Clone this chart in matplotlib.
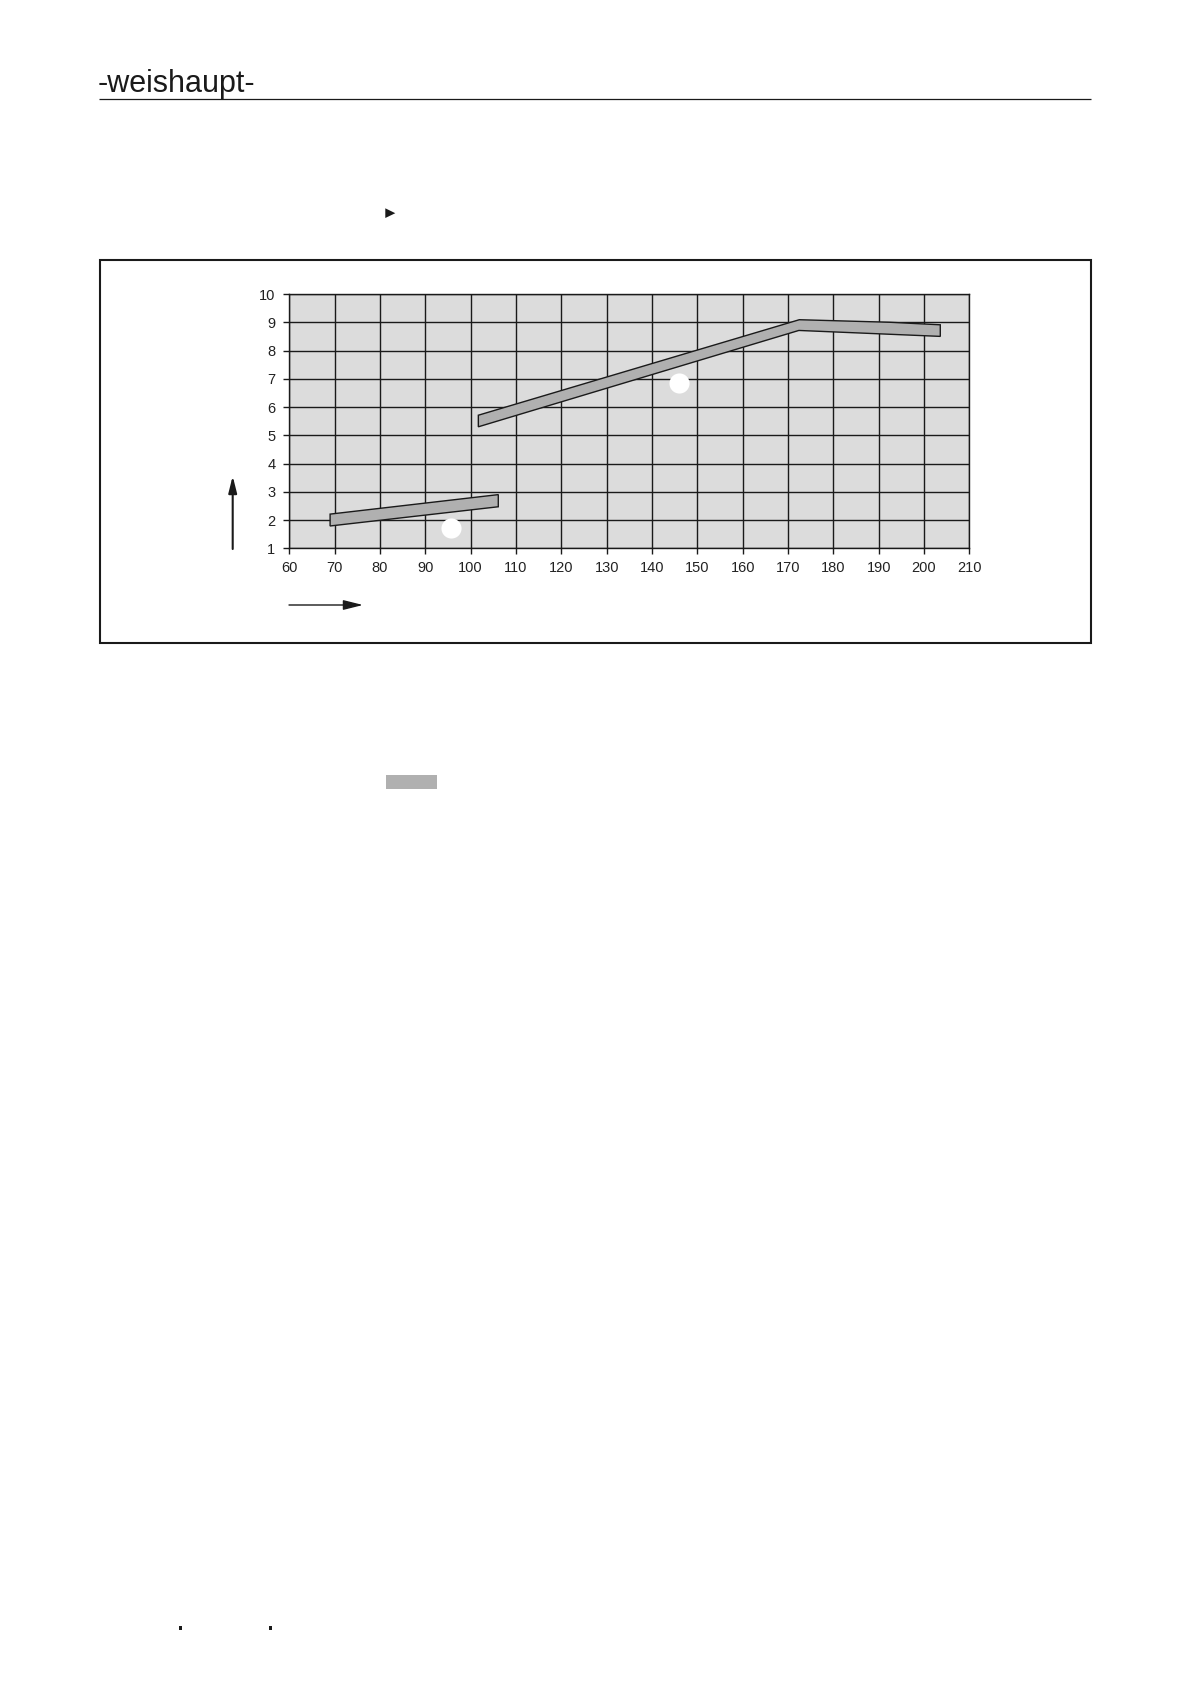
import matplotlib
matplotlib.use("Agg")
import matplotlib.pyplot as plt
from matplotlib.patches import Polygon, Rectangle
import numpy as np

plt.rcParams['font.family'] = ['Liberation Sans', 'DejaVu Sans']

# ---- data ----
x_ticks = [60, 70, 80, 90, 100, 110, 120, 130, 140, 150, 160, 170, 180, 190, 200, 210]
y_ticks = [1, 2, 3, 4, 5, 6, 7, 8, 9, 10]

# lower band (outline, clockwise)
band1_x = [69.0, 106.1, 106.1, 69.0]
band1_y = [2.21, 2.90, 2.47, 1.79]

# upper band (outline)
band2_x = [101.7, 172.5, 192.4, 203.6, 203.6, 172.4, 101.7]
band2_y = [5.71, 9.09, 9.00, 8.91, 8.50, 8.71, 5.30]

# white label dots
dot_x = [95.6, 146.0]
dot_y = [1.73, 6.84]

W, H = 1191, 1684
DPI = 100
fig = plt.figure(figsize=(W / DPI, H / DPI), dpi=DPI)
fig.patch.set_facecolor('white')

# overlay for page decorations (pixel coords, y down)
deco = fig.add_axes([0, 0, 1, 1], zorder=0)
deco.set_xlim(0, W)
deco.set_ylim(H, 0)
deco.axis('off')

# header
deco.text(98, 92.3, "-weishaupt-", fontsize=22, color='#1a1a1a',
          ha='left', va='baseline', family=['Liberation Sans', 'DejaVu Sans'])
deco.plot([99, 1090.7], [99.3, 99.3], color='#1a1a1a', lw=0.9, solid_capstyle='butt')

# small triangle
deco.add_patch(Polygon([[385.3, 208.3], [385.3, 218], [395.3, 213.2]], closed=True,
                       facecolor='#1a1a1a', edgecolor='none'))

# frame
deco.add_patch(Rectangle((100, 260), 990.5, 383.3, fill=False, edgecolor='#1a1a1a', lw=1.5))

# gray swatch
deco.add_patch(Rectangle((386, 775), 50.7, 14, facecolor='#b0b0b0', edgecolor='none'))

# bottom marks
deco.add_patch(Rectangle((179, 1626), 3, 4, facecolor='#1a1a1a', edgecolor='none'))
deco.add_patch(Rectangle((269, 1626), 3, 4, facecolor='#1a1a1a', edgecolor='none'))

# axis arrows
deco.annotate('', xy=(232.7, 476), xytext=(232.7, 549),
              arrowprops=dict(arrowstyle='-|>,head_length=1.0,head_width=0.25',
                              mutation_scale=10, lw=1.5, color='#1a1a1a',
                              shrinkA=0, shrinkB=0))
deco.annotate('', xy=(363, 605), xytext=(289, 605),
              arrowprops=dict(arrowstyle='-|>,head_length=1.2,head_width=0.3',
                              mutation_scale=10, lw=1.0, color='#1a1a1a',
                              shrinkA=0, shrinkB=0))

# ---- chart ----
ax_l, ax_r, ax_t, ax_b = 289.3, 969.3, 294.0, 548.3
ax = fig.add_axes([ax_l / W, (H - ax_b) / H, (ax_r - ax_l) / W, (ax_b - ax_t) / H], zorder=1)
ax.set_facecolor('#dcdcdc')
ax.set_xlim(60, 210)
ax.set_ylim(1, 10)
ax.set_xticks(x_ticks)
ax.set_yticks(y_ticks)
ax.set_xticklabels([str(v) for v in x_ticks])
ax.set_yticklabels([str(v) for v in y_ticks])
ax.grid(True, color='#1a1a1a', lw=1.0)
ax.set_axisbelow(True)
for s in ax.spines.values():
    s.set_color('#1a1a1a')
    s.set_linewidth(1.0)
ax.tick_params(axis='both', direction='out', length=4, width=1.0, color='#1a1a1a',
               labelsize=10.5, labelcolor='#222222')
ax.tick_params(axis='x', pad=5)
ax.tick_params(axis='y', pad=6)

ax.add_patch(Polygon(np.column_stack([band1_x, band1_y]), closed=True,
                     facecolor='#b0b0b0', edgecolor='#1a1a1a', lw=1.0, zorder=3))
ax.add_patch(Polygon(np.column_stack([band2_x, band2_y]), closed=True,
                     facecolor='#b0b0b0', edgecolor='#1a1a1a', lw=1.0, zorder=3))
ax.plot(dot_x, dot_y, 'o', color='white', markersize=14.5, markeredgewidth=0, zorder=4)

fig.savefig('out.png', dpi=DPI, facecolor='white')
